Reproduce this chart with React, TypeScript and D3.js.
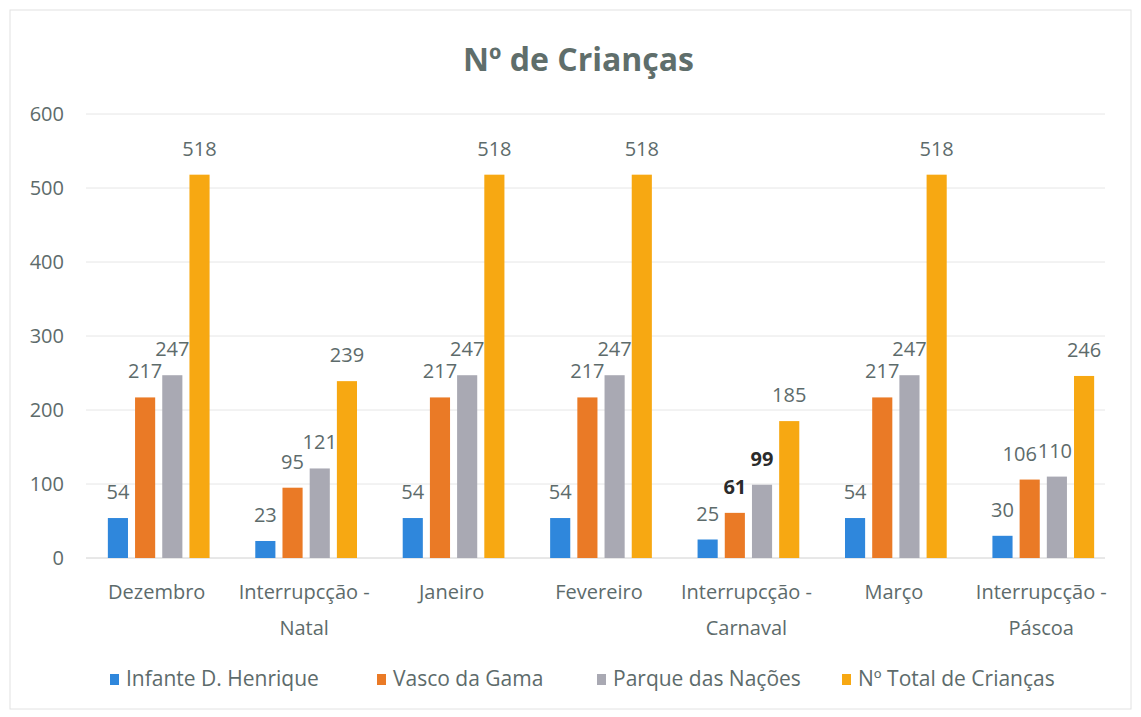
import React from "react";
import * as d3 from "d3";

const categories = [
  "Dezembro",
  "Interrupcção -\nNatal",
  "Janeiro",
  "Fevereiro",
  "Interrupcção -\nCarnaval",
  "Março",
  "Interrupcção -\nPáscoa",
];
const seriesNames = [
  "Infante D. Henrique",
  "Vasco da Gama",
  "Parque das Nações",
  "Nº Total de Crianças",
];
const infante = [54, 23, 54, 54, 25, 54, 30];
const vasco = [217, 95, 217, 217, 61, 217, 106];
const parque = [247, 121, 247, 247, 99, 247, 110];
const total = [518, 239, 518, 518, 185, 518, 246];
const yTicks = [0, 100, 200, 300, 400, 500, 600];
// "series-category" of labels printed in bold black in the original
const boldLabels = ["1-4", "2-4"];
// labels that were pushed sideways so they don't collide
const labelNudge: Record<string, number> = { "1-6": -10, "2-6": -2 };

const colors = ["#2f87dc", "#ea7a26", "#a9a9b3", "#f7a812"];
const W = 1141;
const H = 717;
const font = "'Open Sans', sans-serif";
const textColor = "#5d6b6b";

export default function App() {
  const series = [infante, vasco, parque, total];

  const x0 = d3
    .scaleBand<number>()
    .domain(categories.map((_, i) => i))
    .range([85, 1117])
    .paddingInner(0.31)
    .paddingOuter(0.155);
  const x1 = d3
    .scaleBand<number>()
    .domain(series.map((_, i) => i))
    .range([0, x0.bandwidth()])
    .paddingInner(0.26)
    .paddingOuter(0);
  const y = d3.scaleLinear().domain([0, 600]).range([558, 114]);

  const legendX = [110, 377, 597, 842];

  return (
    <svg
      width={W}
      height={H}
      style={{ position: "fixed", left: 0, top: 0, background: "#fff" }}
      fontFamily={font}
    >
      <rect x={10} y={10} width={W - 20} height={H - 18} fill="#fff" stroke="#e2e2e2" />
      <text
        x={W / 2 + 8}
        y={71}
        textAnchor="middle"
        fontSize={32}
        fontWeight="bold"
        fill="#5f6e6b"
      >
        Nº de Crianças
      </text>

      {yTicks.map((t) => (
        <g key={t}>
          <line
            x1={86}
            x2={1105}
            y1={y(t)}
            y2={y(t)}
            stroke={t === 0 ? "#d0d0d0" : "#e6e6e6"}
          />
          <text x={64} y={y(t)} dy="0.35em" textAnchor="end" fontSize={20} fill={textColor}>
            {t}
          </text>
        </g>
      ))}

      {categories.map((c, ci) => (
        <g key={c} transform={`translate(${x0(ci)},0)`}>
          {series.map((s, si) => {
            const bx = x1(si)!;
            const key = `${si}-${ci}`;
            const isBold = boldLabels.includes(key);
            return (
              <g key={si}>
                <rect
                  x={bx}
                  y={y(s[ci])}
                  width={x1.bandwidth()}
                  height={y(0) - y(s[ci])}
                  fill={colors[si]}
                />
                <text
                  x={bx + x1.bandwidth() / 2 + (labelNudge[key] || 0)}
                  y={y(s[ci]) - 19}
                  textAnchor="middle"
                  fontSize={20}
                  fontWeight={isBold ? "bold" : si === 3 ? 500 : "normal"}
                  fill={isBold ? "#2b2b2b" : textColor}
                >
                  {s[ci]}
                </text>
              </g>
            );
          })}
          {c.split("\n").map((line, li) => (
            <text
              key={li}
              x={x0.bandwidth() / 2 - 2}
              y={599 + li * 36}
              textAnchor="middle"
              fontSize={20}
              fill={textColor}
            >
              {line}
            </text>
          ))}
        </g>
      ))}

      {seriesNames.map((n, i) => (
        <g key={n}>
          <rect x={legendX[i]} y={674} width={9} height={11} fill={colors[i]} />
          <text x={legendX[i] + 16} y={686} fontSize={21} fill={textColor}>
            {n}
          </text>
        </g>
      ))}
    </svg>
  );
}
